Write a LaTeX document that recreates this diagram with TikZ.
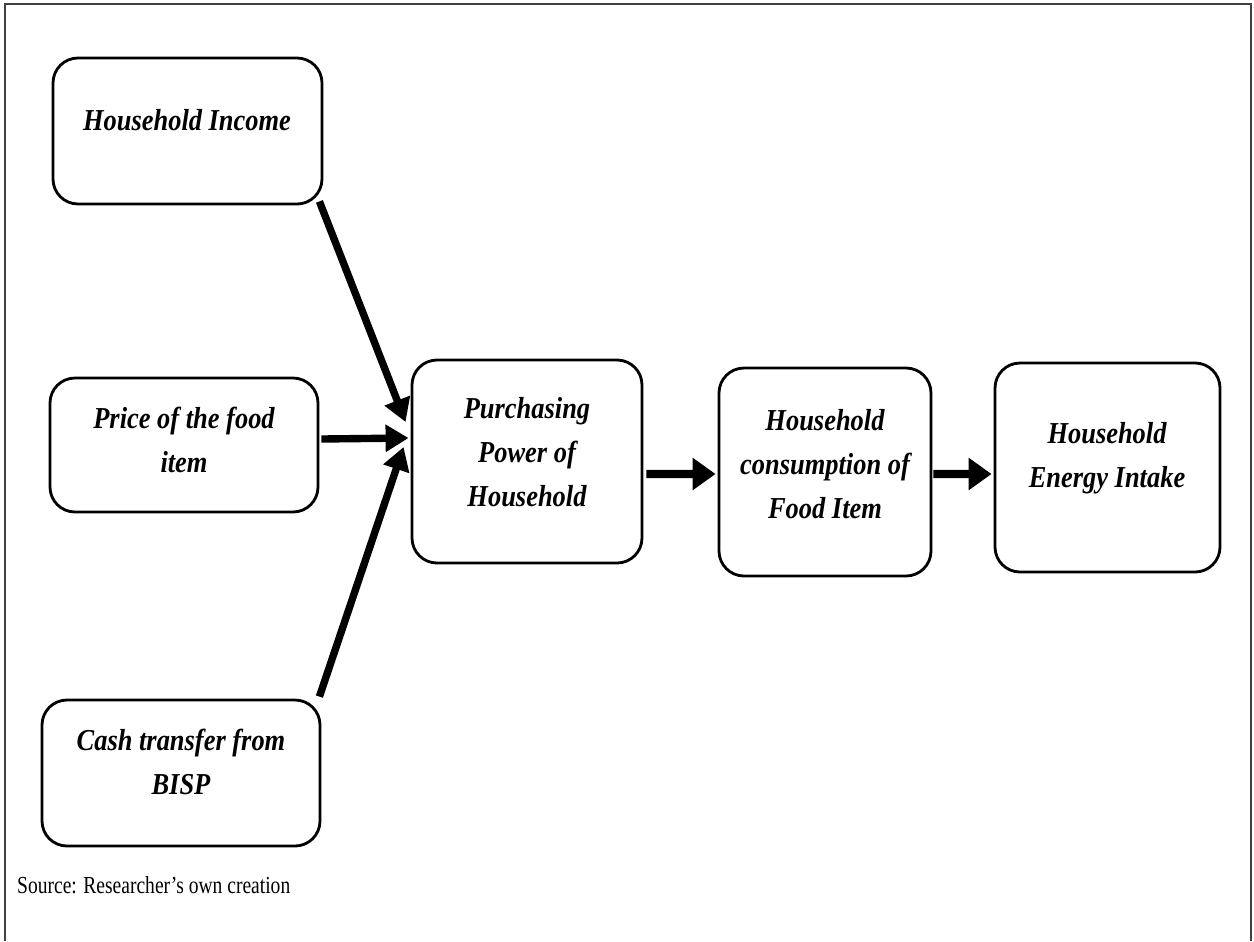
\documentclass[tikz,border=0pt]{standalone}
\usepackage{fontspec}
\setmainfont{Liberation Serif}
\newfontfamily\boxfont{Liberation Serif}[FakeStretch=0.87]
\newfontfamily\srcfont{Liberation Serif}[FakeStretch=0.8]
\usetikzlibrary{arrows.meta,calc}
\begin{document}
\begin{tikzpicture}[x=0.02cm,y=-0.02cm,
  box/.style 2 args={draw, line width=1.6pt, rounded corners=0.5cm,
    minimum width=#1*0.02cm, minimum height=#2*0.02cm, inner sep=0pt},
  boxtext/.style={align=center, font=\boxfont\fontsize{17.3}{25}\selectfont\bfseries\itshape},
  conn/.style={line width=4.2pt, -{Triangle[length=0.46cm,width=0.52cm]}},
  shortconn/.style={line width=4.6pt, -{Triangle[length=0.46cm,width=0.62cm]}}]
\useasboundingbox (0,0) rectangle (1254,941);
\draw[line width=1.1pt, black!75] (5,941) -- (5,4) -- (1251,4) -- (1251,941);

\node[box={269}{146}] (hi) at (187.5,131) {};
\node[box={268}{134}] (price) at (184,445) {};
\node[box={278}{146}] (cash) at (181,773) {};
\node[box={230}{203}] (pp) at (527,461.5) {};
\node[box={212}{208}] (cons) at (825,472) {};
\node[box={225}{209}] (en) at (1107.5,467.5) {};

\node[boxtext] (hit) at (187,120) {Household Income};
\node[boxtext] (pricet) at (184,440) {Price of the food\\item};
\node[boxtext] (casht) at (181,762) {Cash transfer from\\BISP};
\node[boxtext] (ppt) at (527,452) {Purchasing\\Power of\\Household};
\node[boxtext] (const) at (825,464) {Household\\consumption of\\Food Item};
\node[boxtext] (ent) at (1107,458) {Household\\Energy Intake};

\node[anchor=west, font=\srcfont\fontsize{13.9}{16}\selectfont] (src) at (11,885) {Source: Researcher’s own creation};

\draw[conn] ($(hi.south east)+(-4,-4)$) -- ($(pp.west)+(-5,-39.5)$);
\draw[conn] ($(price.east)+(2,-6)$) -- ($(pp.west)+(-2,-23.5)$);
\draw[conn] ($(cash.north east)+(-2,-2)$) -- ($(pp.west)+(-7,-14.5)$);
\draw[shortconn] ($(pp.east)+(3,12.5)$) -- ($(cons.west)+(-2,2)$);
\draw[shortconn] ($(cons.east)+(1,2)$) -- ($(en.west)+(-2,6.5)$);
\end{tikzpicture}
\end{document}
